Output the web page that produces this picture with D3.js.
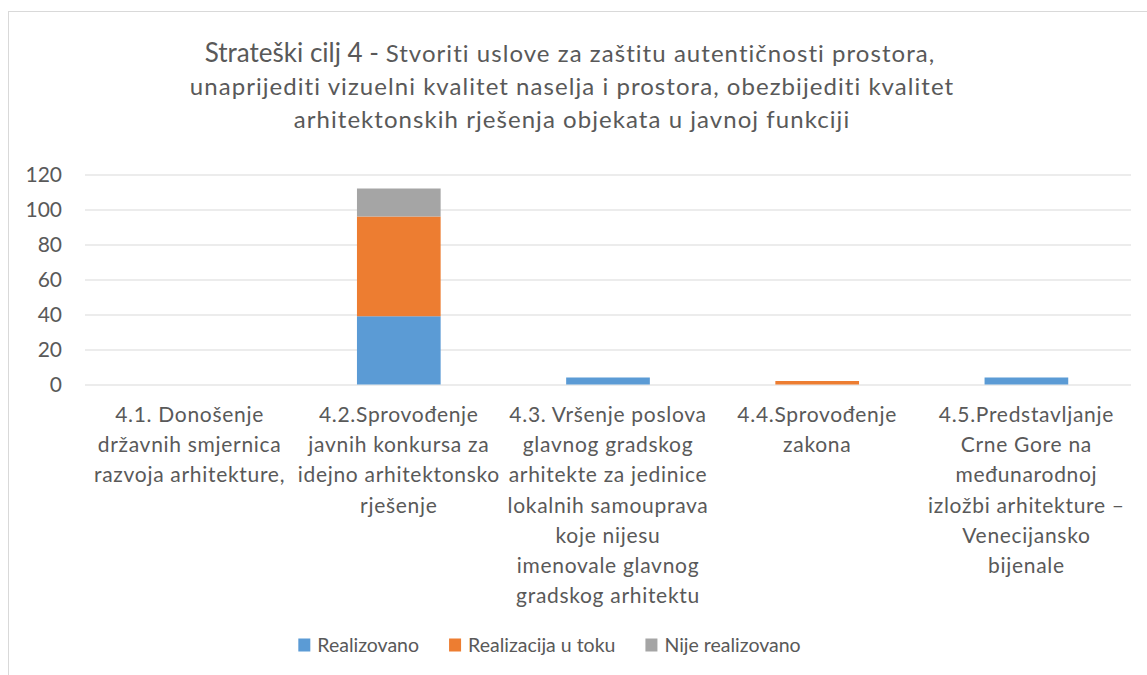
<!DOCTYPE html>
<html>
<head>
<meta charset="utf-8">
<script src="https://cdn.jsdelivr.net/npm/d3@7"></script>
<style>
  html, body { margin: 0; padding: 0; background: #fff; }
  svg text { font-family: Lato, "Noto Sans", sans-serif; fill: #595959; }
</style>
</head>
<body>
<script>
// chart data
const categories = [
  "4.1. Donošenje državnih smjernica razvoja arhitekture,",
  "4.2.Sprovođenje javnih konkursa za idejno arhitektonsko rješenje",
  "4.3. Vršenje poslova glavnog gradskog arhitekte za jedinice lokalnih samouprava koje nijesu imenovale glavnog gradskog arhitektu",
  "4.4.Sprovođenje zakona",
  "4.5.Predstavljanje Crne Gore na međunarodnoj izložbi arhitekture – Venecijansko bijenale"
];
// how the category labels wrap in the original
const categoryLines = [
  ["4.1. Donošenje", "državnih smjernica", "razvoja arhitekture,"],
  ["4.2.Sprovođenje", "javnih konkursa za", "idejno arhitektonsko", "rješenje"],
  ["4.3. Vršenje poslova", "glavnog gradskog", "arhitekte za jedinice", "lokalnih samouprava", "koje nijesu", "imenovale glavnog", "gradskog arhitektu"],
  ["4.4.Sprovođenje", "zakona"],
  ["4.5.Predstavljanje", "Crne Gore na", "međunarodnoj", "izložbi arhitekture –", "Venecijansko", "bijenale"]
];
const seriesNames = ["Realizovano", "Realizacija u toku", "Nije realizovano"];
const realizovano = [0, 39, 4, 0, 4];
const realizacijaUToku = [0, 57, 0, 2, 0];
const nijeRealizovano = [0, 16, 0, 0, 0];
const yTicks = [0, 20, 40, 60, 80, 100, 120];
const titleLead = "Strateški cilj 4 - ";
const titleLines = [
  "Stvoriti uslove za zaštitu autentičnosti prostora,",
  "unaprijediti vizuelni kvalitet naselja i prostora, obezbijediti kvalitet",
  "arhitektonskih rješenja objekata u javnoj funkciji"
];

const colors = ["#5b9bd5", "#ed7d31", "#a5a5a5"];

const width = 1147, height = 675;
const plot = {left: 85, right: 1131, top: 174.5, bottom: 384.5};

const rows = categories.map((c, i) => ({
  cat: c,
  [seriesNames[0]]: realizovano[i],
  [seriesNames[1]]: realizacijaUToku[i],
  [seriesNames[2]]: nijeRealizovano[i]
}));
const stacked = d3.stack().keys(seriesNames)(rows);

const svg = d3.select("body").append("svg")
  .attr("width", width)
  .attr("height", height);

svg.append("rect").attr("width", width).attr("height", height).attr("fill", "#fff");
// chart frame (right/bottom edges fall outside the picture)
svg.append("rect")
  .attr("x", 8.5).attr("y", 11.5)
  .attr("width", 1200).attr("height", 700)
  .attr("fill", "none").attr("stroke", "#d9d9d9");

// title
const title = svg.append("text").attr("text-anchor", "middle");
const t1 = title.append("tspan").attr("x", 570).attr("y", 62);
t1.append("tspan").attr("font-size", "26px").text(titleLead);
t1.append("tspan").attr("font-size", "24px").attr("letter-spacing", "1.05px").text(titleLines[0]);
title.append("tspan").attr("x", 572).attr("y", 95).attr("font-size", "24px")
  .attr("letter-spacing", "1.05px").text(titleLines[1]);
title.append("tspan").attr("x", 572).attr("y", 128).attr("font-size", "24px")
  .attr("letter-spacing", "1.05px").text(titleLines[2]);

const x = d3.scaleBand()
  .domain(categories)
  .range([plot.left, plot.right])
  .paddingInner(0.6)
  .paddingOuter(0.3);

const y = d3.scaleLinear()
  .domain([0, 120])
  .range([plot.bottom, plot.top]);

// y axis with gridlines
svg.append("g")
  .attr("transform", `translate(${plot.left},0)`)
  .call(d3.axisLeft(y).tickValues(yTicks).tickSize(-(plot.right - plot.left)).tickPadding(23))
  .call(g => g.select(".domain").remove())
  .call(g => g.selectAll(".tick line").attr("stroke", "#d9d9d9").attr("stroke-width", 1.2))
  .call(g => g.selectAll(".tick text")
    .attr("font-size", "21px")
    .attr("font-family", "Lato, 'Noto Sans', sans-serif")
    .attr("fill", "#595959"));

// bars
svg.append("g")
  .selectAll("g")
  .data(stacked)
  .join("g")
    .attr("fill", (d, i) => colors[i])
  .selectAll("rect")
  .data(d => d)
  .join("rect")
    .attr("x", d => x(d.data.cat))
    .attr("width", x.bandwidth())
    .attr("y", d => y(d[1]))
    .attr("height", d => y(d[0]) - y(d[1]));

// category labels
svg.append("g")
  .selectAll("text")
  .data(categories)
  .join("text")
    .attr("text-anchor", "middle")
    .attr("font-size", "21px")
    .attr("letter-spacing", "0.7px")
    .each(function (d, i) {
      const cx = x(d) + x.bandwidth() / 2;
      d3.select(this).selectAll("tspan")
        .data(categoryLines[i])
        .join("tspan")
          .attr("x", cx)
          .attr("y", (l, j) => 422 + j * 30.2)
          .text(l => l);
    });

// legend
const legend = svg.append("g");
const items = legend.selectAll("g")
  .data(seriesNames)
  .join("g");
items.append("rect")
  .attr("width", 12).attr("height", 13)
  .attr("y", 638.5)
  .attr("fill", (d, i) => colors[i]);
items.append("text")
  .attr("x", 19)
  .attr("y", 652)
  .attr("font-size", "19.5px")
  .text(d => d);
let cursor = 0;
items.each(function () {
  const w = d3.select(this).select("text").node().getComputedTextLength();
  d3.select(this).attr("transform", `translate(${cursor},0)`);
  cursor += 19 + w + 30;
});
const legendWidth = cursor - 30;
legend.attr("transform", `translate(${549.5 - legendWidth / 2},0)`);
</script>
</body>
</html>
